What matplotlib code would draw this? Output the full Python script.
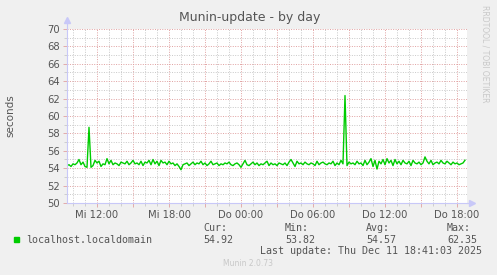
import numpy as np
import pandas as pd
import matplotlib
matplotlib.use("Agg")
import matplotlib.pyplot as plt
import matplotlib.dates as mdates
from matplotlib.ticker import MultipleLocator, FuncFormatter

# data: munin-update duration, one value per 10 minutes
start_time = "2025-12-10 09:30"
values = [
    54.3, 54.4, 54.2, 54.5, 54.4, 54.6, 55.0, 54.4, 54.7, 54.2,
    54.1, 58.7, 54.1, 54.3, 54.9, 54.6, 54.8, 54.2, 54.5, 54.4,
    55.1, 54.5, 54.9, 54.4, 54.6, 54.5, 54.3, 54.7, 54.6, 54.5,
    54.8, 54.4, 54.6, 54.9, 54.5, 54.6, 54.4, 54.8, 54.3, 54.7,
    54.6, 54.9, 54.4, 55.0, 54.5, 54.8, 54.3, 54.9, 54.6, 54.7,
    54.4, 54.8, 54.5, 54.6, 54.3, 54.5, 54.2, 53.82, 54.4, 54.5,
    54.6, 54.3, 54.5, 54.7, 54.4, 54.6, 54.5, 54.8, 54.4, 54.6,
    54.3, 54.5, 54.8, 54.4, 54.5, 54.6, 54.3, 54.5, 54.4, 54.6,
    54.5, 54.7, 54.4, 54.3, 54.5, 54.6, 54.4, 54.1, 54.5, 54.9,
    54.4, 54.3, 54.5, 54.7, 54.4, 54.6, 54.3, 54.5, 54.4, 54.6,
    54.8, 54.3, 54.6, 54.4, 54.5, 54.3, 54.6, 54.5, 54.4, 54.6,
    54.3, 54.7, 55.0, 54.6, 54.2, 54.8, 54.5, 54.6, 54.4, 54.7,
    54.5, 54.4, 54.6, 54.5, 54.3, 54.8, 54.4, 54.6, 54.7, 54.5,
    54.4, 54.6, 54.5, 54.8, 54.3, 54.6, 54.4, 54.9, 54.5, 62.35,
    54.3, 54.7, 54.5, 54.6, 54.4, 54.8, 54.5, 54.6, 54.3, 54.9,
    54.4, 54.7, 55.1, 54.2, 54.9, 53.9, 54.8, 54.5, 55.0, 54.4,
    55.1, 54.6, 54.9, 54.3, 55.0, 54.5, 54.8, 54.4, 54.9, 54.6,
    54.5, 54.8, 54.3, 54.9, 54.6, 54.5, 54.7, 54.4, 54.6, 55.3,
    54.8, 54.5, 54.9, 54.4, 54.6, 54.7, 54.5, 54.9, 54.6, 54.5,
    54.8, 54.6, 54.4, 54.7, 54.5, 54.6, 54.4, 54.5, 54.6, 54.92,
]
series_name = "localhost.localdomain"
cur_val, min_val, avg_val, max_val = "54.92", "53.82", "54.57", "62.35"
last_update = "Last update: Thu Dec 11 18:41:03 2025"
weekdays_de = ["Mo", "Di", "Mi", "Do", "Fr", "Sa", "So"]

times = pd.date_range(start_time, periods=len(values), freq="10min")
x_start = pd.Timestamp("2025-12-10 09:30")
x_end = pd.Timestamp("2025-12-11 18:50")

BG = "#F0F0F0"
TXT = "#555555"
AXIS = "#C8C8F8"

fig = plt.figure(figsize=(4.97, 2.75), dpi=100, facecolor=BG)
ax = fig.add_axes([67 / 497, 1 - 203 / 275, 400 / 497, 174 / 275])
ax.set_facecolor("white")

ax.plot(times, values, color="#00CC00", lw=1.0, zorder=3)

ax.set_xlim(x_start, x_end)
ax.set_ylim(50, 70)

# grids
ax.yaxis.set_major_locator(MultipleLocator(2))
ax.yaxis.set_minor_locator(MultipleLocator(1))
ax.xaxis.set_major_locator(mdates.HourLocator(interval=3))
ax.xaxis.set_minor_locator(mdates.HourLocator())

def fmt_x(v, pos):
    d = mdates.num2date(v)
    if d.hour % 6 != 0:
        return ""
    return "%s %02d:00" % (weekdays_de[d.weekday()], d.hour)

ax.xaxis.set_major_formatter(FuncFormatter(fmt_x))
ax.grid(which="minor", color="#C8C8C8", lw=0.7, ls=(0, (1, 1.5)), zorder=1)
ax.grid(which="major", color="#E0A0A0", lw=0.7, ls=(0, (1, 1.5)), zorder=2)

for s in ["top", "right"]:
    ax.spines[s].set_visible(False)
for s in ["left", "bottom"]:
    ax.spines[s].set_color(AXIS)
    ax.spines[s].set_linewidth(0.8)
    ax.spines[s].set_zorder(4)

ax.tick_params(which="major", length=3, width=0.6, color="#E0A0A0",
               labelsize=7.2, labelcolor=TXT, pad=2)
ax.tick_params(which="minor", length=2, width=0.5, color="#C0C0C0")

# axis arrows
ax.plot([0, 0], [1, 1.04], color=AXIS, lw=0.8, transform=ax.transAxes, clip_on=False)
ax.plot([0], [1.05], marker="^", color=AXIS, ms=5, transform=ax.transAxes, clip_on=False)
ax.plot([1, 1.01], [0, 0], color=AXIS, lw=0.8, transform=ax.transAxes, clip_on=False)
ax.plot([1.012], [0], marker=">", color=AXIS, ms=5, transform=ax.transAxes, clip_on=False)

fig.text(250 / 497, 1 - 18 / 275, "Munin-update - by day", ha="center", va="center",
         fontsize=9, color=TXT)
fig.text(10 / 497, 1 - 116 / 275, "seconds", rotation=90, ha="center", va="center",
         fontsize=7.5, color=TXT)
fig.text(485 / 497, 1 - 5 / 275, "RRDTOOL / TOBI OETIKER", rotation=270, ha="center",
         va="top", fontsize=5.5, color="#C8C8C8")

# legend block
mono = "DejaVu Sans Mono"
fig.patches.append(plt.Rectangle((14 / 497, 1 - 242 / 275), 5 / 497, 5 / 275,
                                 transform=fig.transFigure, color="#00CC00"))
fig.text(26 / 497, 1 - 240 / 275, series_name, family=mono, fontsize=7.2,
         color=TXT, va="center")
for xpx, lab, val in [(203, "Cur:", cur_val), (285, "Min:", min_val),
                      (366, "Avg:", avg_val), (447, "Max:", max_val)]:
    fig.text(xpx / 497, 1 - 228 / 275, lab, family=mono, fontsize=7.2, color=TXT, va="center")
    fig.text(xpx / 497, 1 - 240 / 275, val, family=mono, fontsize=7.2, color=TXT, va="center")
fig.text(482 / 497, 1 - 251 / 275, last_update, family=mono, fontsize=7.2,
         color=TXT, va="center", ha="right")
fig.text(248 / 497, 1 - 264 / 275, "Munin 2.0.73", fontsize=5.5, color="#C8C8C8",
         ha="center", va="center")

fig.savefig("out.png", dpi=100, facecolor=BG)
